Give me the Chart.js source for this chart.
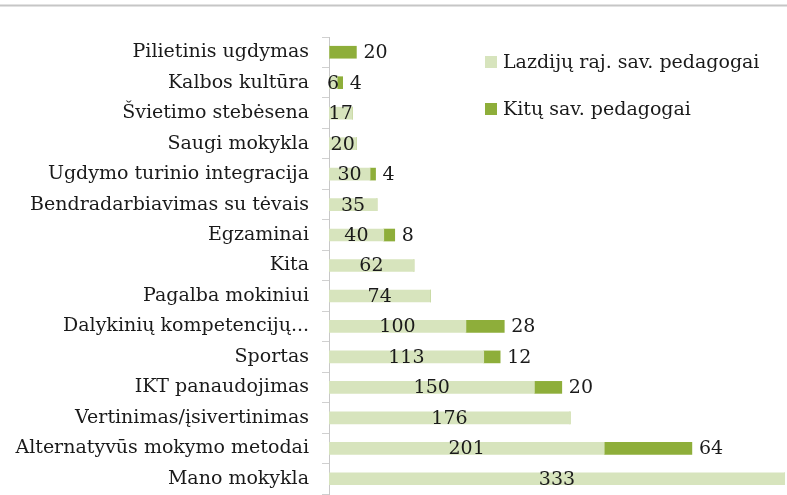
<!DOCTYPE html>
<html>
<head>
<meta charset="utf-8">
<script src="https://cdn.jsdelivr.net/npm/chart.js@4.4.0/dist/chart.umd.min.js"></script>
<style>
    html, body { margin: 0; padding: 0; background: #fff; }
    #wrap { width: 787px; height: 495px; position: relative; }
</style>
</head>
<body>
<div id="wrap"><canvas id="topicsChart"></canvas></div>
<script>
// Categories (top to bottom)
const categories = [
    'Pilietinis ugdymas',
    'Kalbos kultūra',
    'Švietimo stebėsena',
    'Saugi mokykla',
    'Ugdymo turinio integracija',
    'Bendradarbiavimas su tėvais',
    'Egzaminai',
    'Kita',
    'Pagalba mokiniui',
    'Dalykinių kompetencijų...',
    'Sportas',
    'IKT panaudojimas',
    'Vertinimas/įsivertinimas',
    'Alternatyvūs mokymo metodai',
    'Mano mokykla'
];

// Series values
const lazdijuValues = [0, 6, 17, 20, 30, 35, 40, 62, 74, 100, 113, 150, 176, 201, 333];
const kituValues    = [20, 4, 0, 0, 4, 0, 8, 0, 0, 28, 12, 20, 0, 64, 0];

const seriesNames = ['Lazdijų raj. sav. pedagogai', 'Kitų sav. pedagogai'];
const seriesColors = ['#d7e4bd', '#8eae3a'];

const FAMILY = '"DejaVu Serif", serif';
const SIZE = 19;
const FONT = SIZE + 'px ' + FAMILY;

// Top border line of the picture
const frameLine = {
    id: 'frameLine',
    beforeDraw: (chart) => {
        const ctx = chart.ctx;
        ctx.save();
        ctx.strokeStyle = '#c6c6c6';
        ctx.lineWidth = 2;
        ctx.beginPath();
        ctx.moveTo(0, 5.5);
        ctx.lineTo(chart.width, 5.5);
        ctx.stroke();
        ctx.restore();
    }
};

// Value labels: first series centered in the bar, second series outside the end
const valueLabels = {
    id: 'valueLabels',
    afterDatasetsDraw: (chart) => {
        const ctx = chart.ctx;
        ctx.save();
        ctx.font = FONT;
        ctx.fillStyle = '#1a1a1a';
        ctx.textBaseline = 'middle';
        chart.data.datasets.forEach((ds, di) => {
            const meta = chart.getDatasetMeta(di);
            meta.data.forEach((bar, i) => {
                const v = ds.data[i];
                if (!v) return;
                if (di === 0) {
                    ctx.textAlign = 'center';
                    ctx.fillText(String(v), (bar.x + bar.base) / 2, bar.y + 1);
                } else {
                    ctx.textAlign = 'left';
                    ctx.fillText(String(v), bar.x + 7, bar.y + 1);
                }
            });
        });
        ctx.restore();
    }
};

// Legend drawn inside the plot, top right
const sideLegend = {
    id: 'sideLegend',
    afterDraw: (chart) => {
        const ctx = chart.ctx;
        const x = 485;
        const ys = [62, 109];
        ctx.save();
        ctx.font = FONT;
        ctx.textBaseline = 'middle';
        ctx.textAlign = 'left';
        chart.data.datasets.forEach((ds, i) => {
            ctx.fillStyle = ds.backgroundColor;
            ctx.fillRect(x, ys[i] - 6, 12, 12);
            ctx.fillStyle = '#1a1a1a';
            ctx.fillText(ds.label, x + 18, ys[i] + 1);
        });
        ctx.restore();
    }
};

var ctx = document.getElementById('topicsChart').getContext('2d');
var topicsChart = new Chart(ctx, {
    type: 'bar',
    data: {
        labels: categories,
        datasets: [{
            label: seriesNames[0],
            data: lazdijuValues,
            backgroundColor: seriesColors[0],
            barThickness: 12
        }, {
            label: seriesNames[1],
            data: kituValues,
            backgroundColor: seriesColors[1],
            barThickness: 12
        }]
    },
    options: {
        indexAxis: 'y',
        responsive: true,
        maintainAspectRatio: false,
        animation: false,
        layout: {
            padding: { top: 37, right: 2, bottom: 1, left: 0 }
        },
        scales: {
            x: {
                stacked: true,
                display: false,
                min: 0,
                max: 333
            },
            y: {
                stacked: true,
                afterFit: (axis) => {
                    axis.width = 329;
                    axis.paddingTop = 0;
                    axis.paddingBottom = 0;
                },
                grid: {
                    offset: true,
                    drawOnChartArea: false,
                    tickLength: 7,
                    color: '#d0d0d0'
                },
                border: {
                    display: true,
                    color: '#c8c8c8'
                },
                ticks: {
                    padding: 13,
                    color: '#1a1a1a',
                    font: { family: FAMILY, size: SIZE }
                }
            }
        },
        plugins: {
            legend: { display: false },
            tooltip: { enabled: false }
        }
    },
    plugins: [frameLine, valueLabels, sideLegend]
});
</script>
</body>
</html>
